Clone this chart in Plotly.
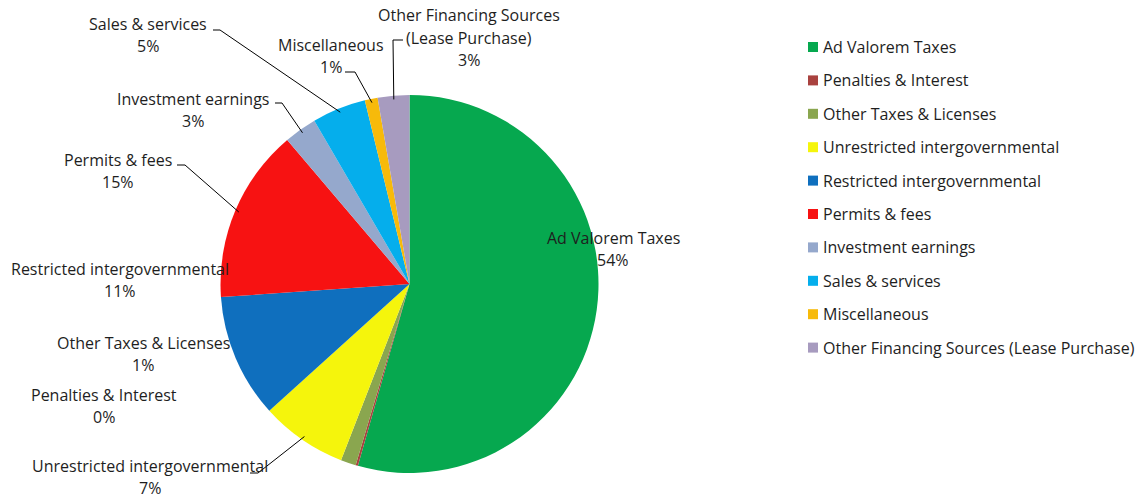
import math
import plotly.graph_objects as go

# ---------------- data ----------------
categories = [
    "Ad Valorem Taxes",
    "Penalties & Interest",
    "Other Taxes & Licenses",
    "Unrestricted intergovernmental",
    "Restricted intergovernmental",
    "Permits & fees",
    "Investment earnings",
    "Sales & services",
    "Miscellaneous",
    "Other Financing Sources (Lease Purchase)",
]
shares = [54.4, 0.2, 1.3, 7.4, 10.6, 14.9, 2.8, 4.6, 1.1, 2.7]

colors = ["#06A84F", "#A9423F", "#8AA64F", "#F5F50C", "#0F6FBE",
          "#F71212", "#95A8CC", "#05AEEC", "#F7BA0A", "#A79BBF"]

# ---------------- layout constants ----------------
W, H = 1141, 498
CX, CY, R = 409.5, 284.0, 189.0          # pie centre / radius in pixels
FONT = "Open Sans"
TXT = "#1e1e1e"
FS = 16
LINE_GAP = 22

# label block centre (px) for each category, and optional leader stub (px)
label_pos = {
    "Ad Valorem Taxes": (613, 249),
    "Penalties & Interest": (104, 406),
    "Other Taxes & Licenses": (143, 354),
    "Unrestricted intergovernmental": (150, 477),
    "Restricted intergovernmental": (120, 280),
    "Permits & fees": (118, 171),
    "Investment earnings": (193, 110),
    "Sales & services": (148, 35),
    "Miscellaneous": (331, 56),
    "Other Financing Sources (Lease Purchase)": (469, 37.5),
}
label_wrap = {"Other Financing Sources (Lease Purchase)":
              ["Other Financing Sources", "(Lease Purchase)"]}
leader_stub = {
    "Unrestricted intergovernmental": ((250, 473), (258, 473)),
    "Permits & fees": ((177, 165), (185, 165)),
    "Investment earnings": ((275, 103), (282, 103)),
    "Sales & services": ((213, 30), (220, 30)),
    "Miscellaneous": ((345, 72), (355, 72)),
    "Other Financing Sources (Lease Purchase)": ((403, 40), (393, 40)),
}


def px(x, y):
    return x / W, 1 - y / H


fig = go.Figure()
fig.add_trace(go.Pie(
    labels=categories,
    values=shares,
    sort=False,
    direction="clockwise",
    rotation=0,
    marker=dict(colors=colors, line=dict(width=0)),
    textinfo="none",
    showlegend=False,
    domain=dict(x=[(CX - R) / W, (CX + R) / W],
                y=[1 - (CY + R) / H, 1 - (CY - R) / H]),
    hovertemplate="%{label}<br>%{percent}<extra></extra>",
))

total = sum(shares)
annotations = []
shapes = []
cum = 0.0
for name, v in zip(categories, shares):
    mid = (cum + v / 2) / total * 2 * math.pi
    cum += v
    pct = f"{round(v / total * 100)}%"
    lines = label_wrap.get(name, [name]) + [pct]
    cx, cy = label_pos[name]
    y0 = cy - (len(lines) - 1) * LINE_GAP / 2
    for k, t in enumerate(lines):
        xx, yy = px(cx, y0 + k * LINE_GAP)
        annotations.append(dict(x=xx, y=yy, xref="paper", yref="paper",
                                text=t, showarrow=False, xanchor="center",
                                yanchor="middle",
                                font=dict(family=FONT, size=FS, color=TXT)))
    if name in leader_stub:
        (ax, ay), (bx, by) = leader_stub[name]
        ex = CX + 0.98 * R * math.sin(mid)
        ey = CY - 0.98 * R * math.cos(mid)
        for (p, q) in (((ax, ay), (bx, by)), ((bx, by), (ex, ey))):
            x0, y0p = px(*p)
            x1, y1p = px(*q)
            shapes.append(dict(type="line", xref="paper", yref="paper",
                               x0=x0, y0=y0p, x1=x1, y1=y1p,
                               line=dict(color="#000000", width=1)))

# manual legend
LEG_X, LEG_Y0, LEG_DY, SQ = 808, 47, 33.4, 10
for i, (name, c) in enumerate(zip(categories, colors)):
    yc = LEG_Y0 + i * LEG_DY
    x0, y0p = px(LEG_X, yc - SQ / 2)
    x1, y1p = px(LEG_X + SQ, yc + SQ / 2)
    shapes.append(dict(type="rect", xref="paper", yref="paper",
                       x0=x0, x1=x1, y0=y1p, y1=y0p,
                       fillcolor=c, line=dict(width=0)))
    tx, ty = px(LEG_X + SQ + 3, yc)
    annotations.append(dict(x=tx, y=ty, xref="paper", yref="paper", text=name,
                            showarrow=False, xanchor="left", yanchor="middle",
                            font=dict(family=FONT, size=FS, color=TXT)))

fig.update_layout(
    width=W, height=H, autosize=False,
    margin=dict(l=0, r=0, t=0, b=0),
    paper_bgcolor="white", plot_bgcolor="white",
    annotations=annotations, shapes=shapes,
    font=dict(family=FONT, size=FS, color=TXT),
)
fig.write_html("out.html")
